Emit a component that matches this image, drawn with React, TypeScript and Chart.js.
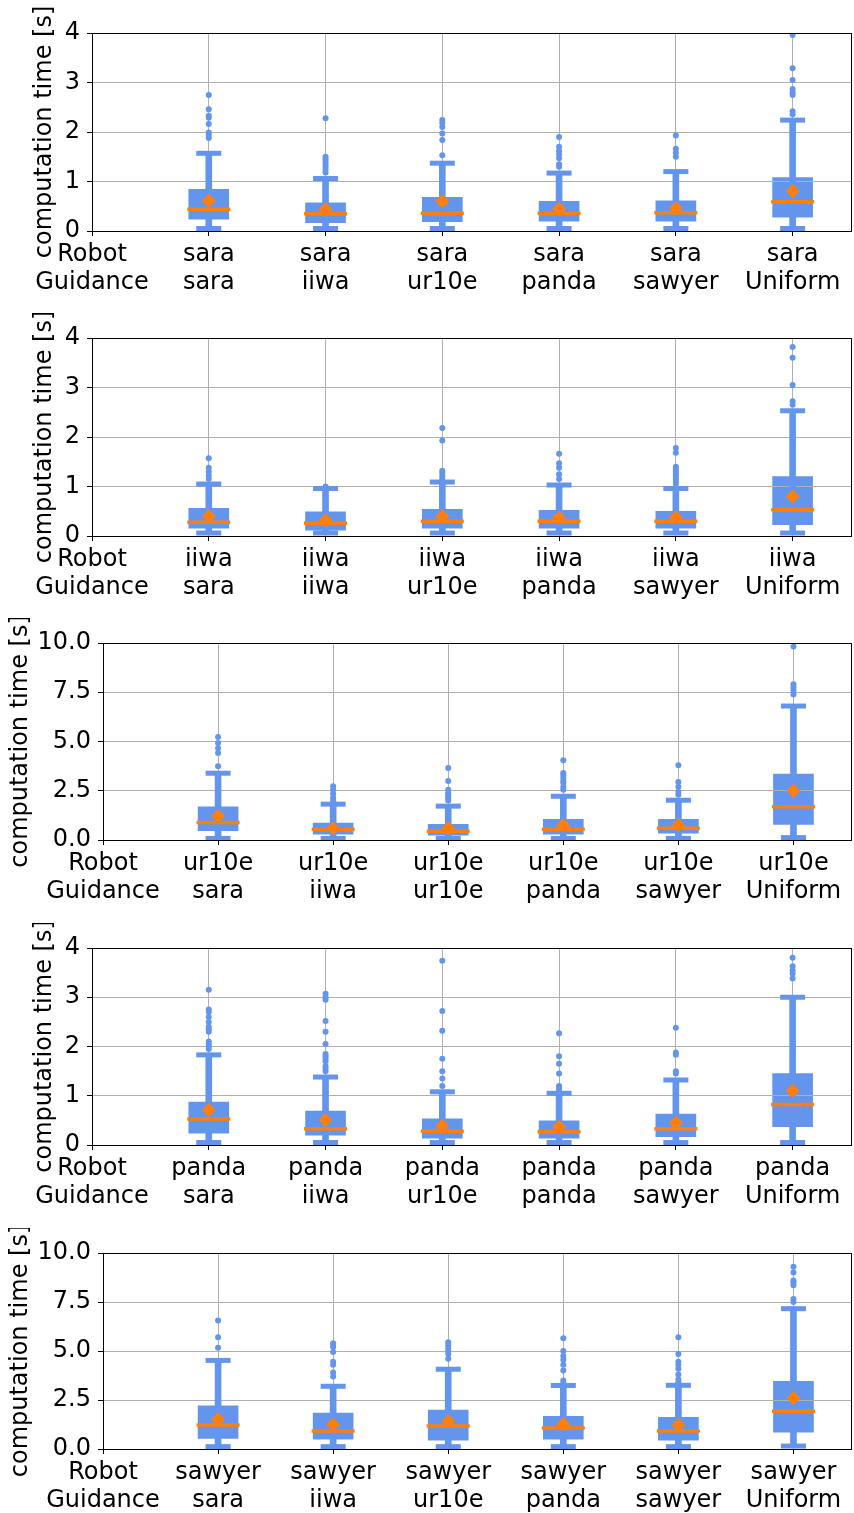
import React, { useEffect, useRef } from 'react';
import { Chart, registerables } from 'chart.js';

Chart.register(...registerables);

// ---------- data ----------
const guidances = ['sara', 'iiwa', 'ur10e', 'panda', 'sawyer', 'Uniform'];
const robots = ['sara', 'iiwa', 'ur10e', 'panda', 'sawyer'];
const yTitle = 'computation time [s]';

// robot: sara
const saraLow = [0.05, 0.05, 0.05, 0.05, 0.05, 0.05];
const saraQ1 = [0.24, 0.17, 0.19, 0.2, 0.2, 0.28];
const saraMedian = [0.44, 0.35, 0.36, 0.36, 0.37, 0.59];
const saraQ3 = [0.84, 0.57, 0.68, 0.6, 0.61, 1.08];
const saraHigh = [1.57, 1.06, 1.37, 1.17, 1.2, 2.24];
const saraMean = [0.61, 0.44, 0.6, 0.45, 0.46, 0.81];
const saraOutliers = [
  [2.75, 2.46, 2.33, 2.29, 2.16, 1.99, 1.94, 1.88],
  [2.28, 1.5, 1.45, 1.4, 1.35, 1.3, 1.24, 1.18],
  [2.24, 2.18, 2.1, 1.97, 1.84, 1.53],
  [1.9, 1.7, 1.62, 1.55, 1.47, 1.35, 1.3],
  [1.93, 1.66, 1.58, 1.5],
  [3.96, 3.29, 3.05, 2.87, 2.8, 2.75, 2.42, 2.36],
];

// robot: iiwa
const iiwaLow = [0.06, 0.06, 0.06, 0.06, 0.06, 0.06];
const iiwaQ1 = [0.16, 0.12, 0.16, 0.16, 0.16, 0.23];
const iiwaMedian = [0.28, 0.26, 0.3, 0.3, 0.3, 0.53];
const iiwaQ3 = [0.56, 0.49, 0.54, 0.52, 0.5, 1.2];
const iiwaHigh = [1.05, 0.96, 1.09, 1.03, 0.96, 2.53];
const iiwaMean = [0.4, 0.32, 0.4, 0.37, 0.38, 0.8];
const iiwaOutliers = [
  [1.57, 1.38, 1.3, 1.22, 1.15],
  [1.0, 0.98],
  [2.18, 1.93, 1.32, 1.28, 1.22, 1.17, 1.12],
  [1.66, 1.47, 1.38, 1.25, 1.15],
  [1.78, 1.68, 1.4, 1.35, 1.3, 1.25, 1.2, 1.15, 1.1, 1.05],
  [3.82, 3.6, 3.05, 2.72, 2.65],
];

// robot: ur10e
const ur10eLow = [0.08, 0.08, 0.08, 0.08, 0.08, 0.12];
const ur10eQ1 = [0.47, 0.3, 0.25, 0.3, 0.35, 0.79];
const ur10eMedian = [0.89, 0.55, 0.45, 0.55, 0.6, 1.69];
const ur10eQ3 = [1.69, 0.86, 0.8, 1.05, 1.05, 3.34];
const ur10eHigh = [3.39, 1.82, 1.72, 2.22, 2.02, 6.8];
const ur10eMean = [1.22, 0.6, 0.6, 0.75, 0.75, 2.5];
const ur10eOutliers = [
  [5.23, 4.93, 4.66, 4.42, 3.75],
  [2.73, 2.55, 2.35, 2.15, 2.0],
  [3.65, 3.0, 2.55, 2.4, 2.3, 2.2, 2.1, 2.0],
  [4.05, 3.4, 3.3, 3.15, 3.0, 2.9, 2.7, 2.55],
  [3.8, 2.95, 2.7, 2.45, 2.3],
  [9.82, 7.9, 7.76, 7.6, 7.39],
];

// robot: panda
const pandaLow = [0.05, 0.05, 0.05, 0.05, 0.05, 0.05];
const pandaQ1 = [0.24, 0.2, 0.14, 0.14, 0.17, 0.37];
const pandaMedian = [0.53, 0.33, 0.28, 0.27, 0.33, 0.82];
const pandaQ3 = [0.87, 0.69, 0.53, 0.49, 0.63, 1.45];
const pandaHigh = [1.83, 1.38, 1.08, 1.05, 1.32, 3.0];
const pandaMean = [0.71, 0.51, 0.39, 0.37, 0.45, 1.1];
const pandaOutliers = [
  [3.15, 2.75, 2.7, 2.6, 2.5, 2.4, 2.35, 2.3, 2.1, 2.05, 2.0, 1.95],
  [3.07, 3.0, 2.95, 2.52, 2.3, 2.05, 1.85, 1.8, 1.75, 1.7, 1.6, 1.55, 1.5],
  [3.74, 2.72, 2.32, 1.75, 1.5, 1.35, 1.2],
  [2.27, 1.8, 1.65, 1.45, 1.2, 1.17, 1.12],
  [2.38, 1.88, 1.83, 1.5, 1.45],
  [3.8, 3.63, 3.55, 3.48, 3.38],
];

// robot: sawyer
const sawyerLow = [0.12, 0.12, 0.12, 0.12, 0.12, 0.15];
const sawyerQ1 = [0.54, 0.5, 0.45, 0.5, 0.45, 0.86];
const sawyerMedian = [1.22, 0.92, 1.17, 1.07, 0.92, 1.93];
const sawyerQ3 = [2.2, 1.83, 1.98, 1.67, 1.62, 3.45];
const sawyerHigh = [4.52, 3.2, 4.07, 3.24, 3.25, 7.16];
const sawyerMean = [1.52, 1.25, 1.42, 1.27, 1.22, 2.6];
const sawyerOutliers = [
  [6.55, 5.7, 5.16],
  [5.4, 5.3, 5.2, 4.95, 4.45, 4.3, 3.9, 3.7],
  [5.45, 5.3, 5.15, 5.0, 4.85, 4.6],
  [5.65, 5.0, 4.75, 4.55, 4.3, 4.0, 3.5, 3.35],
  [5.7, 4.85, 4.45, 4.3, 4.1, 3.8, 3.55, 3.4],
  [9.3, 9.0, 8.6, 8.5, 8.35, 7.65, 7.5],
];

// ---------- styles ----------
const BLUE = '#6495ED';
const ORANGE = '#FF7F0E';
const GRID = '#b0b0b0';
const FONT = { family: "'DejaVu Sans', sans-serif", size: 24, lineHeight: 1.2 };
// canvas is wider than the page; the chart's own overflow margin on the right is clipped by the wrapper
const CANVAS_W = 876;

type PanelCfg = {
  robot: string;
  low: number[]; q1: number[]; med: number[]; q3: number[]; high: number[]; mean: number[];
  outliers: number[][];
  yMax: number; yStep: number; decimals: number;
  top: number; height: number; padTop: number; padLeft: number; axisLeft: number; plotH: number;
};

const panels: PanelCfg[] = [
  { robot: robots[0], low: saraLow, q1: saraQ1, med: saraMedian, q3: saraQ3, high: saraHigh, mean: saraMean, outliers: saraOutliers,
    yMax: 4, yStep: 1, decimals: 0, top: 0, height: 313, padTop: 33, padLeft: 30, axisLeft: 92, plotH: 198 },
  { robot: robots[1], low: iiwaLow, q1: iiwaQ1, med: iiwaMedian, q3: iiwaQ3, high: iiwaHigh, mean: iiwaMean, outliers: iiwaOutliers,
    yMax: 4, yStep: 1, decimals: 0, top: 313, height: 305, padTop: 25, padLeft: 30, axisLeft: 92, plotH: 198 },
  { robot: robots[2], low: ur10eLow, q1: ur10eQ1, med: ur10eMedian, q3: ur10eQ3, high: ur10eHigh, mean: ur10eMean, outliers: ur10eOutliers,
    yMax: 10, yStep: 2.5, decimals: 1, top: 618, height: 305, padTop: 25, padLeft: 6, axisLeft: 103, plotH: 197 },
  { robot: robots[3], low: pandaLow, q1: pandaQ1, med: pandaMedian, q3: pandaQ3, high: pandaHigh, mean: pandaMean, outliers: pandaOutliers,
    yMax: 4, yStep: 1, decimals: 0, top: 923, height: 305, padTop: 25, padLeft: 30, axisLeft: 92, plotH: 197 },
  { robot: robots[4], low: sawyerLow, q1: sawyerQ1, med: sawyerMedian, q3: sawyerQ3, high: sawyerHigh, mean: sawyerMean, outliers: sawyerOutliers,
    yMax: 10, yStep: 2.5, decimals: 1, top: 1228, height: 285, padTop: 24, padLeft: 6, axisLeft: 103, plotH: 197 },
];

const BOX_INDEX = 5;

const align = (p: number) => Math.round(p - 0.5) + 0.5;

const boxPlugin = {
  id: 'boxExtras',
  afterDatasetDraw(chart: any, args: any) {
    if (args.index !== BOX_INDEX) return;
    const ca = chart.chartArea;
    chart.scales.x.drawGrid(ca);
    chart.scales.y.drawGrid(ca);
  },
  afterDraw(chart: any) {
    const { ctx, chartArea } = chart;
    const l = align(chartArea.left), r = align(chartArea.right);
    const t = align(chartArea.top), b = align(chartArea.bottom);
    ctx.save();
    ctx.strokeStyle = '#000';
    ctx.lineWidth = 1;
    ctx.strokeRect(l, t, r - l, b - t);
    ctx.restore();
  },
};

function Panel({ cfg }: { cfg: PanelCfg }) {
  const ref = useRef<HTMLCanvasElement>(null);
  useEffect(() => {
    const xs = guidances.map((_, i) => i + 1);
    const xLabels: (string | string[])[] = [['Robot', 'Guidance'], ...guidances.map((g) => [cfg.robot, g])];
    const outlierPts: { x: number; y: number }[] = [];
    cfg.outliers.forEach((arr, i) => arr.forEach((v) => outlierPts.push({ x: xs[i], y: v })));
    const caps: { x: number; y: number }[] = [];
    xs.forEach((x, i) => { caps.push({ x, y: cfg.low[i] }); caps.push({ x, y: cfg.high[i] }); });

    const chart = new Chart(ref.current as HTMLCanvasElement, {
      type: 'bar',
      data: {
        datasets: [
          { type: 'scatter', data: outlierPts, pointStyle: 'circle', pointRadius: 3, backgroundColor: BLUE, borderWidth: 0 } as any,
          { type: 'scatter', data: xs.map((x, i) => ({ x, y: cfg.mean[i] })), pointStyle: 'rectRot', pointRadius: 7, backgroundColor: ORANGE, borderColor: ORANGE, borderWidth: 0 } as any,
          { type: 'scatter', data: xs.map((x, i) => ({ x, y: cfg.med[i] })), pointStyle: 'line', pointRadius: 21.5, borderColor: ORANGE, borderWidth: 3.5 } as any,
          { type: 'scatter', data: caps, pointStyle: 'line', pointRadius: 12.5, borderColor: BLUE, borderWidth: 5 } as any,
          { type: 'bar', data: xs.map((x, i) => ({ x, y: [cfg.low[i], cfg.high[i]] })), barThickness: 6, grouped: false, backgroundColor: BLUE, borderWidth: 0 } as any,
          { type: 'bar', data: xs.map((x, i) => ({ x, y: [cfg.q1[i], cfg.q3[i]] })), barThickness: 40, grouped: false, backgroundColor: BLUE, borderWidth: 0 } as any,
        ],
      },
      options: {
        animation: false,
        responsive: false,
        events: [],
        layout: { padding: { left: cfg.padLeft, top: cfg.padTop, right: 0, bottom: 0 } },
        plugins: { legend: { display: false }, tooltip: { enabled: false } },
        scales: {
          x: {
            type: 'linear',
            min: 0,
            max: 6.5,
            offset: false,
            afterBuildTicks: (s: any) => { s.ticks = [0, ...xs].map((v) => ({ value: v })); },
            afterFit: (s: any) => {
              s.height = cfg.height - cfg.padTop - cfg.plotH;
              s.paddingLeft = 0;
              s.paddingRight = 0;
            },
            grid: { color: GRID, lineWidth: 1, offset: false, tickColor: '#000', tickLength: 5, tickWidth: 1 },
            border: { display: false },
            ticks: {
              font: FONT as any, color: '#000', padding: 4, maxRotation: 0, autoSkip: false,
              callback: (v: any) => xLabels[Math.round(Number(v))] ?? '',
            },
          },
          y: {
            type: 'linear',
            min: 0,
            max: cfg.yMax,
            afterFit: (s: any) => {
              s.width = cfg.axisLeft - cfg.padLeft;
              s.paddingTop = 0;
              s.paddingBottom = 0;
            },
            grid: { color: GRID, lineWidth: 1, tickColor: '#000', tickLength: 5, tickWidth: 1 },
            border: { display: false },
            ticks: {
              stepSize: cfg.yStep, font: FONT as any, color: '#000', padding: 7,
              callback: (v: any) => Number(v).toFixed(cfg.decimals),
            },
            title: { display: true, text: yTitle, font: FONT as any, color: '#000', padding: { top: 0, bottom: 0 } },
          },
        },
      } as any,
      plugins: [boxPlugin as any],
    });
    return () => chart.destroy();
  }, [cfg]);
  return (
    <canvas
      ref={ref}
      width={CANVAS_W}
      height={cfg.height}
      style={{ position: 'absolute', left: 0, top: cfg.top, width: CANVAS_W, height: cfg.height }}
    />
  );
}

export default function App() {
  return (
    <div style={{ position: 'absolute', left: 0, top: 0, width: 854, height: 1513, overflow: 'hidden', background: '#fff' }}>
      {panels.map((p) => (
        <Panel key={p.robot} cfg={p} />
      ))}
    </div>
  );
}
